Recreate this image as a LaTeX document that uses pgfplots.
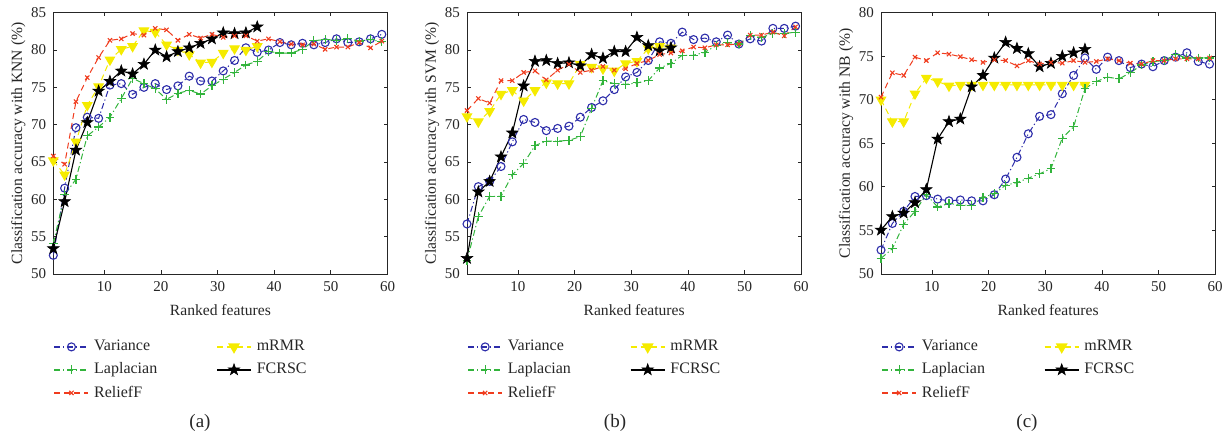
\documentclass[border=0pt]{standalone}
\usepackage{fontspec}
\setmainfont{Liberation Serif}
\usepackage{pgfplots}
\pgfplotsset{compat=1.18}
\usetikzlibrary{plotmarks}
\definecolor{cvar}{RGB}{45,45,170}
\definecolor{clap}{RGB}{50,180,60}
\definecolor{crel}{RGB}{240,60,30}
\definecolor{cmr}{RGB}{245,235,0}
\pgfdeclareplotmark{fstar}{%
  \pgfpathmoveto{\pgfpointpolar{90}{\pgfplotmarksize}}%
  \pgfpathlineto{\pgfpointpolar{126}{0.40\pgfplotmarksize}}%
  \pgfpathlineto{\pgfpointpolar{162}{\pgfplotmarksize}}%
  \pgfpathlineto{\pgfpointpolar{198}{0.40\pgfplotmarksize}}%
  \pgfpathlineto{\pgfpointpolar{234}{\pgfplotmarksize}}%
  \pgfpathlineto{\pgfpointpolar{270}{0.40\pgfplotmarksize}}%
  \pgfpathlineto{\pgfpointpolar{306}{\pgfplotmarksize}}%
  \pgfpathlineto{\pgfpointpolar{342}{0.40\pgfplotmarksize}}%
  \pgfpathlineto{\pgfpointpolar{18}{\pgfplotmarksize}}%
  \pgfpathlineto{\pgfpointpolar{54}{0.40\pgfplotmarksize}}%
  \pgfpathclose\pgfusepathqfillstroke}
\pgfplotsset{
  varst/.style={cvar, line width=0.5pt, dash pattern=on 3pt off 1.4pt on 0.6pt off 1.4pt, mark=o, mark size=2pt, mark options={solid, line width=0.55pt}},
  lapst/.style={clap, line width=0.5pt, dash pattern=on 3pt off 1.4pt on 0.6pt off 1.4pt, mark=+, mark size=2.2pt, mark options={solid, line width=0.6pt}},
  relst/.style={crel, line width=0.5pt, dash pattern=on 3pt off 2pt, mark=x, mark size=1.5pt, mark options={solid, line width=0.55pt}},
  mrst/.style={cmr, line width=0.5pt, dash pattern=on 3pt off 2pt, mark=triangle*, mark size=2.7pt, mark options={solid, rotate=180, fill=cmr}},
  fcst/.style={black, line width=0.55pt, solid, mark=fstar, mark size=3pt, mark options={solid, fill=black, line width=0.3pt}},
  panel/.style={
    scale only axis, width=167.1pt, height=130.65pt, anchor=south west,
    xmin=1, xmax=60, xtick={10,20,30,40,50,60},
    tick align=inside, major tick length=1.8pt,
    axis line style={line width=0.45pt, black!85},
    every tick/.style={black!85, line width=0.4pt},
    tick label style={font=\fontsize{7.5}{9}\selectfont, black!85},
    /pgf/number format/assume math mode=true,
    label style={font=\fontsize{7.8}{9}\selectfont, black!85},
    every axis y label/.append style={yshift=-4pt},
    xlabel={Ranked features},
    legend columns=2,
    legend cell align=left,
    legend image code/.code={\draw[mark repeat=2,mark phase=2,##1, line width=0.75pt] plot coordinates {(0pt,0pt)(8.5pt,0pt)(17pt,0pt)};},
    legend style={at={(0,-0.24)}, anchor=north west, draw=none, fill=none,
      font=\fontsize{8}{9}\selectfont, inner xsep=0pt, inner ysep=0pt, row sep=1.5pt,
      nodes={inner xsep=2.5pt, inner ysep=1.5pt},
      /tikz/every even column/.append style={column sep=27pt}, text=black!85},
  },
}
\begin{document}
\begin{tikzpicture}
\useasboundingbox (0,0) rectangle (614.5pt,219pt);
% (a)
\begin{axis}[panel, at={(26.65pt,82pt)}, ymin=50, ymax=85, ytick={50,55,...,85},
  ylabel={Classification accuracy with KNN (\%)}]
\addplot[varst] coordinates {(1,52.5)(3,61.5)(5,69.6)(7,71.0)(9,70.85)(11,75.3)(13,75.5)(15,74.06)(17,75.0)(19,75.5)(21,74.7)(23,75.2)(25,76.5)(27,75.85)(29,75.85)(31,77.2)(33,78.6)(35,80.3)(37,79.7)(39,80.0)(41,81.0)(43,80.7)(45,80.9)(47,80.7)(49,81.0)(51,81.5)(53,81.0)(55,81.1)(57,81.5)(59,82.1)};
\addlegendentry{Variance}
\addplot[mrst] coordinates {(1,65.2)(3,63.3)(5,67.7)(7,72.6)(9,75.1)(11,78.7)(13,80.1)(15,80.5)(17,82.6)(19,82.4)(21,80.7)(23,80.0)(25,79.4)(27,78.3)(29,78.4)(31,79.6)(33,80.2)(35,80.0)(37,80.5)};
\addlegendentry{mRMR}
\addplot[lapst] coordinates {(1,54.1)(3,60.6)(5,62.7)(7,68.5)(9,69.7)(11,71.0)(13,73.5)(15,76.2)(17,75.5)(19,74.8)(21,73.4)(23,74.2)(25,74.6)(27,74.1)(29,75.2)(31,76.1)(33,77.0)(35,78.0)(37,78.5)(39,79.8)(41,79.6)(43,79.6)(45,80.1)(47,81.25)(49,81.4)(51,81.3)(53,81.5)(55,81.2)(57,81.4)(59,81.1)};
\addlegendentry{Laplacian}
\addplot[fcst] coordinates {(1,53.4)(3,59.7)(5,66.6)(7,70.3)(9,74.5)(11,75.8)(13,77.2)(15,76.8)(17,78.1)(19,80.0)(21,79.1)(23,79.8)(25,80.3)(27,80.9)(29,81.5)(31,82.3)(33,82.2)(35,82.3)(37,83.1)};
\addlegendentry{FCRSC}
\addplot[relst] coordinates {(1,65.8)(3,64.7)(5,73.1)(7,76.3)(9,79.0)(11,81.3)(13,81.5)(15,82.2)(17,82.0)(19,82.9)(21,82.7)(23,81.3)(25,82.1)(27,81.6)(29,82.1)(31,81.7)(33,81.9)(35,81.9)(37,81.2)(39,81.5)(41,81.1)(43,80.8)(45,80.7)(47,80.8)(49,80.1)(51,80.4)(53,80.4)(55,81.0)(57,80.3)(59,81.2)};
\addlegendentry{ReliefF}
\end{axis}
% (b)
\begin{axis}[panel, at={(233.5pt,82pt)}, ymin=50, ymax=85, ytick={50,55,...,85},
  ylabel={Classification accuracy with SVM (\%)}]
\addplot[varst] coordinates {(1,56.7)(3,61.7)(5,62.4)(7,64.4)(9,67.7)(11,70.7)(13,70.3)(15,69.2)(17,69.5)(19,69.8)(21,71.0)(23,72.3)(25,73.2)(27,74.7)(29,76.4)(31,77.0)(33,78.6)(35,81.1)(37,80.9)(39,82.4)(41,81.4)(43,81.6)(45,81.1)(47,82.0)(49,80.8)(51,81.5)(53,81.2)(55,82.9)(57,82.9)(59,83.2)};
\addlegendentry{Variance}
\addplot[mrst] coordinates {(1,71.1)(3,70.4)(5,71.8)(7,74.1)(9,74.6)(11,73.2)(13,74.6)(15,75.6)(17,75.5)(19,75.5)(21,78.1)(23,77.7)(25,77.5)(27,77.2)(29,78.2)(31,78.5)(33,80.2)(35,80.5)(37,80.3)};
\addlegendentry{mRMR}
\addplot[lapst] coordinates {(1,51.8)(3,57.7)(5,60.4)(7,60.4)(9,63.3)(11,64.8)(13,67.2)(15,67.8)(17,67.8)(19,67.9)(21,68.4)(23,72.2)(25,75.9)(27,75.5)(29,75.4)(31,75.6)(33,75.9)(35,77.6)(37,78.2)(39,79.3)(41,79.3)(43,79.7)(45,80.6)(47,81.0)(49,80.8)(51,81.9)(53,81.7)(55,82.2)(57,82.2)(59,82.4)};
\addlegendentry{Laplacian}
\addplot[fcst] coordinates {(1,52.1)(3,61.0)(5,62.4)(7,65.7)(9,68.9)(11,75.2)(13,78.5)(15,78.6)(17,78.2)(19,78.3)(21,77.9)(23,79.4)(25,78.9)(27,79.8)(29,79.8)(31,81.7)(33,80.6)(35,79.9)(37,80.3)};
\addlegendentry{FCRSC}
\addplot[relst] coordinates {(1,71.9)(3,73.5)(5,72.9)(7,75.9)(9,75.9)(11,77.0)(13,77.2)(15,76.0)(17,77.3)(19,78.1)(21,77.0)(23,77.3)(25,77.8)(27,77.3)(29,77.5)(31,78.2)(33,78.6)(35,79.4)(37,79.6)(39,79.9)(41,80.4)(43,80.3)(45,80.7)(47,80.7)(49,80.8)(51,82.0)(53,82.0)(55,82.4)(57,81.9)(59,83.1)};
\addlegendentry{ReliefF}
\end{axis}
% (c)
\begin{axis}[panel, at={(440.5pt,82pt)}, ymin=50, ymax=80, ytick={50,55,...,80},
  ylabel={Classification accuracy with NB (\%)}]
\addplot[varst] coordinates {(1,52.75)(3,55.8)(5,57.2)(7,58.9)(9,59.0)(11,58.6)(13,58.4)(15,58.5)(17,58.4)(19,58.4)(21,59.1)(23,60.9)(25,63.4)(27,66.1)(29,68.1)(31,68.3)(33,70.7)(35,72.8)(37,74.8)(39,73.5)(41,74.9)(43,74.5)(45,73.7)(47,74.1)(49,73.8)(51,74.5)(53,74.9)(55,75.4)(57,74.4)(59,74.1)};
\addlegendentry{Variance}
\addplot[mrst] coordinates {(1,70.0)(3,67.5)(5,67.5)(7,70.7)(9,72.5)(11,72.1)(13,71.6)(15,71.7)(17,71.7)(19,71.7)(21,71.7)(23,71.7)(25,71.7)(27,71.7)(29,71.7)(31,71.7)(33,71.7)(35,71.7)(37,71.7)};
\addlegendentry{mRMR}
\addplot[lapst] coordinates {(1,51.8)(3,52.9)(5,55.7)(7,57.2)(9,59.1)(11,57.7)(13,58.1)(15,57.9)(17,57.9)(19,58.8)(21,59.2)(23,60.2)(25,60.5)(27,61.0)(29,61.5)(31,62.1)(33,65.6)(35,66.9)(37,71.3)(39,72.1)(41,72.6)(43,72.4)(45,73.1)(47,74.0)(49,74.4)(51,74.5)(53,75.2)(55,74.8)(57,74.8)(59,74.8)};
\addlegendentry{Laplacian}
\addplot[fcst] coordinates {(1,55.05)(3,56.6)(5,57.0)(7,58.2)(9,59.7)(11,65.5)(13,67.5)(15,67.8)(17,71.5)(19,72.8)(21,74.8)(23,76.6)(25,75.9)(27,75.3)(29,73.8)(31,74.2)(33,75.0)(35,75.4)(37,75.8)};
\addlegendentry{FCRSC}
\addplot[relst] coordinates {(1,70.3)(3,73.1)(5,72.8)(7,74.9)(9,74.5)(11,75.4)(13,75.25)(15,74.95)(17,74.6)(19,74.3)(21,74.6)(23,74.5)(25,73.9)(27,74.5)(29,74.1)(31,74.3)(33,74.2)(35,74.5)(37,74.3)(39,74.4)(41,74.7)(43,74.5)(45,74.2)(47,74.1)(49,74.5)(51,74.5)(53,74.7)(55,74.7)(57,74.7)(59,74.8)};
\addlegendentry{ReliefF}
\end{axis}
\node[font=\fontsize{9.5}{11}\selectfont, text=black!85] at (100pt,7.5pt) {(a)};
\node[font=\fontsize{9.5}{11}\selectfont, text=black!85] at (307.5pt,7.5pt) {(b)};
\node[font=\fontsize{9.5}{11}\selectfont, text=black!85] at (513.5pt,7.5pt) {(c)};
\end{tikzpicture}
\end{document}
